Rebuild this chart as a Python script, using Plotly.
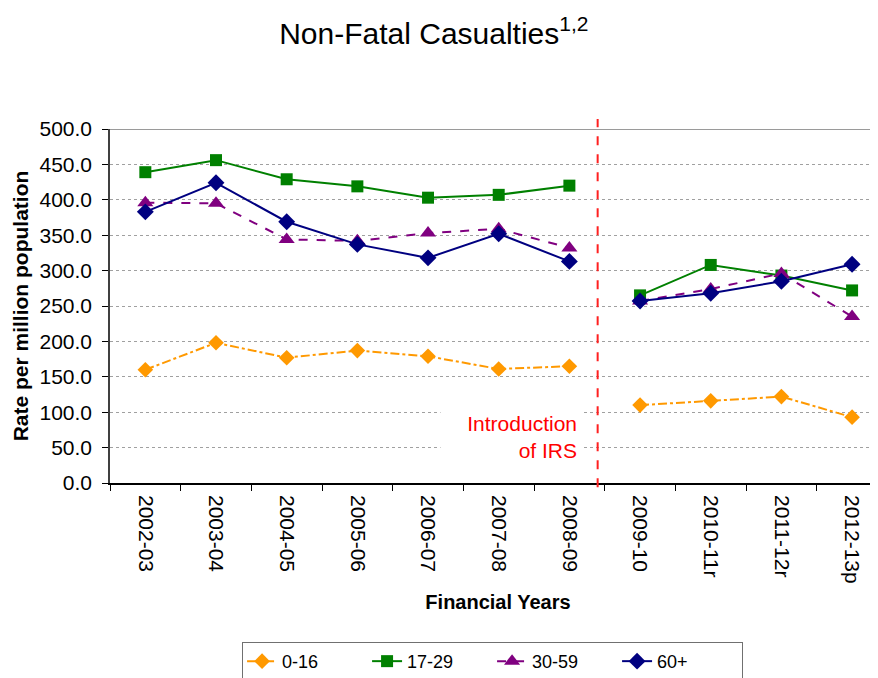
import plotly.graph_objects as go

years = ["2002-03", "2003-04", "2004-05", "2005-06", "2006-07", "2007-08",
         "2008-09", "2009-10", "2010-11r", "2011-12r", "2012-13p"]

age_0_16 = [160, 198, 177, 187, 179, 161, 165, 110, 116, 122, 93]
age_17_29 = [439, 456, 429, 419, 403, 407, 420, 265, 308, 293, 272]
age_30_59 = [396, 395, 344, 342, 353, 359, 332, 257, 274, 296, 235]
age_60_plus = [383, 424, 369, 337, 318, 352, 313, 257, 268, 285, 309]

# first 7 years are pre-IRS, the rest after (lines are not joined across)
split = 7

series = [
    ("0-16", age_0_16, "#FF9900", "dashdot", "diamond", 12),
    ("17-29", age_17_29, "#008000", "solid", "square", 12),
    ("30-59", age_30_59, "#800080", "dash", "triangle-up", 14),
    ("60+", age_60_plus, "#000080", "solid", "diamond", 13),
]

FONT = "Liberation Sans, Arial, sans-serif"

fig = go.Figure()

for name, vals, color, dash, symbol, size in series:
    for i, (xs, ys) in enumerate([(years[:split], vals[:split]),
                                  (years[split:], vals[split:])]):
        fig.add_trace(go.Scatter(
            x=xs, y=ys, name=name, legendgroup=name,
            showlegend=(i == 0),
            mode="lines+markers",
            line=dict(color=color, width=2, dash=dash),
            marker=dict(color=color, symbol=symbol, size=size),
        ))

# top border line at 500
fig.add_shape(type="line", xref="paper", yref="y", x0=0, x1=1, y0=500, y1=500,
              line=dict(color="#9A9A9A", width=2))

# IRS marker
fig.add_shape(type="line", xref="x", yref="paper", x0=6.4, x1=6.4,
              y0=-0.012, y1=1.028,
              line=dict(color="#FF2020", width=2, dash="dash"))

fig.add_annotation(
    x=6.176, y=65, xref="x", yref="y",
    text="Introduction<br>of IRS", showarrow=False,
    xanchor="right", yanchor="middle", align="right",
    width=132, borderpad=4, bgcolor="white",
    font=dict(family=FONT, size=21, color="#FF0000"),
)

fig.update_layout(
    width=878, height=678,
    margin=dict(l=102, r=0, t=121, b=203, autoexpand=False),
    plot_bgcolor="white", paper_bgcolor="white",
    font=dict(family=FONT, color="black"),
    title=dict(text="Non-Fatal Casualties<sup>1,2</sup>",
               x=0.485, xref="container", y=0.963, yref="container",
               xanchor="center", yanchor="middle",
               font=dict(family=FONT, size=30, color="black")),
    showlegend=True,
    legend=dict(orientation="h", x=0.493, xanchor="center",
                y=-0.449, yanchor="top",
                bordercolor="#707070", borderwidth=1,
                font=dict(family=FONT, size=18),
                entrywidth=80),
)

fig.update_xaxes(
    type="category", categoryorder="array", categoryarray=years,
    range=[-0.5, 10.48], automargin=False,
    tickangle=90, tickson="boundaries", ticks="outside", ticklen=6,
    ticklabelstandoff=6,
    tickcolor="black", tickfont=dict(family=FONT, size=21),
    showline=True, linecolor="black", linewidth=1.5,
    showgrid=False, zeroline=False,
    title=dict(text="<b>Financial Years</b>", standoff=12,
               font=dict(family=FONT, size=20)),
)

fig.update_yaxes(
    range=[0, 500], dtick=50, tickformat=".1f", automargin=False,
    ticks="outside", ticklen=6, tickcolor="black",
    ticklabelstandoff=6,
    tickfont=dict(family=FONT, size=21),
    showline=True, linecolor="#404040", linewidth=1.5,
    showgrid=True, gridcolor="#A0A0A0", griddash="dot", gridwidth=1,
    zeroline=False,
    title=dict(text="<b>Rate per million population</b>", standoff=5,
               font=dict(family=FONT, size=21)),
)

fig.write_html("out.html")
